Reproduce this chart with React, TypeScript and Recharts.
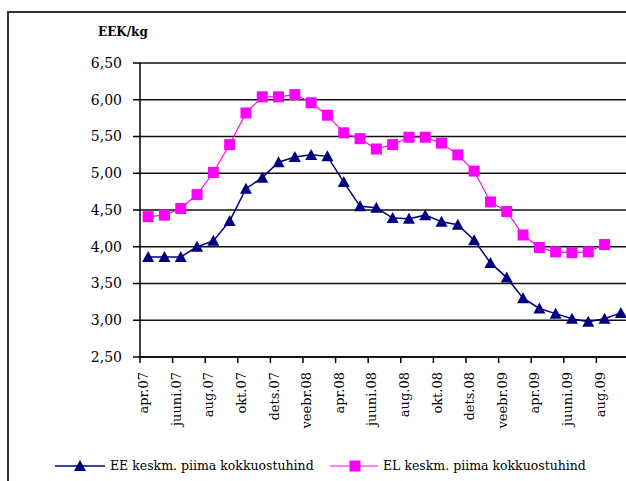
import React from 'react';
import { LineChart, Line, XAxis, YAxis, CartesianGrid } from 'recharts';

const months = [
  'apr.07', 'mai.07', 'juuni.07', 'juuli.07', 'aug.07', 'sept.07', 'okt.07', 'nov.07', 'dets.07',
  'jaan.08', 'veebr.08', 'märts.08', 'apr.08', 'mai.08', 'juuni.08', 'juuli.08', 'aug.08', 'sept.08',
  'okt.08', 'nov.08', 'dets.08', 'jaan.09', 'veebr.09', 'märts.09', 'apr.09', 'mai.09', 'juuni.09',
  'juuli.09', 'aug.09', 'sept.09',
];

const eePrice = [
  3.86, 3.86, 3.86, 4.0, 4.08, 4.35, 4.79, 4.94, 5.15,
  5.22, 5.25, 5.23, 4.88, 4.55, 4.53, 4.39, 4.38, 4.43,
  4.34, 4.3, 4.09, 3.78, 3.58, 3.3, 3.16, 3.09, 3.02,
  2.98, 3.02, 3.1,
];

const elPrice = [
  4.41, 4.43, 4.52, 4.71, 5.01, 5.39, 5.82, 6.04, 6.04,
  6.07, 5.96, 5.79, 5.55, 5.47, 5.33, 5.39, 5.49, 5.49,
  5.41, 5.25, 5.03, 4.61, 4.48, 4.16, 3.99, 3.93, 3.92,
  3.93, 4.03, null,
];

const yTicks = [2.5, 3, 3.5, 4, 4.5, 5, 5.5, 6, 6.5];

const data = months.map((m, i) => ({ month: m, ee: eePrice[i], el: elPrice[i] }));

const FONT = '"DejaVu Serif", "Liberation Serif", serif';
const CHART_W = 632;
const CHART_H = 481;
const PLOT_LEFT = 140;
const PLOT_RIGHT = 3;
const PLOT_TOP = 63;
const X_AXIS_H = 124;
const AXIS_Y = CHART_H - X_AXIS_H;
const BAND = (CHART_W - PLOT_LEFT - PLOT_RIGHT) / months.length;

const Triangle = (props: any) => {
  const { cx, cy } = props;
  if (cx == null || cy == null) return null;
  return <polygon points={`${cx},${cy - 6} ${cx - 6},${cy + 5} ${cx + 6},${cy + 5}`} fill="#000080" />;
};

const Square = (props: any) => {
  const { cx, cy, payload } = props;
  if (cx == null || cy == null || payload.el == null) return null;
  return <rect x={cx - 5.5} y={cy - 5.5} width={11} height={11} fill="#FF00FF" />;
};

const MonthTick = (props: any) => {
  const { x, payload } = props;
  const lx = x - BAND / 2;
  const ty = AXIS_Y + 15;
  return (
    <g>
      <line x1={lx} y1={AXIS_Y} x2={lx} y2={AXIS_Y + 6} stroke="#000" strokeWidth={1.5} />
      <text
        x={x}
        y={ty}
        transform={`rotate(-90, ${x}, ${ty})`}
        textAnchor="end"
        fontFamily={FONT}
        fontSize={13}
        fill="#000"
      >
        {payload.value}
      </text>
    </g>
  );
};

const App = () => {
  return (
    <div style={{ position: 'absolute', left: 0, top: 0, width: 626, height: 481, overflow: 'hidden', background: '#fff' }}>
      <div style={{ position: 'absolute', left: 7, top: 11, right: -10, bottom: -10, borderLeft: '2px solid #333', borderTop: '2px solid #333' }} />
      <div style={{ position: 'absolute', left: 98, top: 25, fontFamily: FONT, fontSize: 12, fontWeight: 'bold' }}>EEK/kg</div>
      <LineChart
        width={CHART_W}
        height={CHART_H}
        data={data}
        margin={{ top: PLOT_TOP, right: PLOT_RIGHT, left: 0, bottom: 0 }}
        style={{ position: 'absolute', left: 0, top: 0 }}
      >
        <CartesianGrid vertical={false} stroke="#111" strokeWidth={1.6} />
        <XAxis
          dataKey="month"
          interval={1}
          height={X_AXIS_H}
          padding={{ left: BAND / 2, right: BAND / 2 }}
          tickLine={false}
          tick={<MonthTick />}
          axisLine={{ stroke: '#000', strokeWidth: 1.5 }}
        />
        <YAxis
          width={PLOT_LEFT}
          domain={[2.5, 6.5]}
          ticks={yTicks}
          interval={0}
          tickSize={7}
          tickMargin={11}
          tickFormatter={(v: number) => v.toFixed(2).replace('.', ',')}
          tick={{ fontFamily: FONT, fontSize: 14, fill: '#000' }}
          tickLine={{ stroke: '#000', strokeWidth: 1.5 }}
          axisLine={{ stroke: '#000', strokeWidth: 1.5 }}
        />
        <Line
          dataKey="ee"
          stroke="#000080"
          strokeWidth={1.5}
          dot={<Triangle />}
          activeDot={false}
          isAnimationActive={false}
        />
        <Line
          dataKey="el"
          stroke="#FF00FF"
          strokeWidth={1.2}
          dot={<Square />}
          activeDot={false}
          isAnimationActive={false}
        />
      </LineChart>
      <svg width={626} height={30} style={{ position: 'absolute', left: 0, top: 451 }}>
        <line x1={55} y1={15} x2={105} y2={15} stroke="#000080" strokeWidth={1.5} />
        <polygon points="80,9 74,20 86,20" fill="#000080" />
        <text x={110} y={19} fontFamily={FONT} fontSize={12.5} fill="#000">EE keskm. piima kokkuostuhind</text>
        <line x1={330} y1={15} x2={378} y2={15} stroke="#FF00FF" strokeWidth={1.2} />
        <rect x={349.5} y={9.5} width={11} height={11} fill="#FF00FF" />
        <text x={383} y={19} fontFamily={FONT} fontSize={12.5} fill="#000">EL keskm. piima kokkuostuhind</text>
      </svg>
    </div>
  );
};

export default App;
